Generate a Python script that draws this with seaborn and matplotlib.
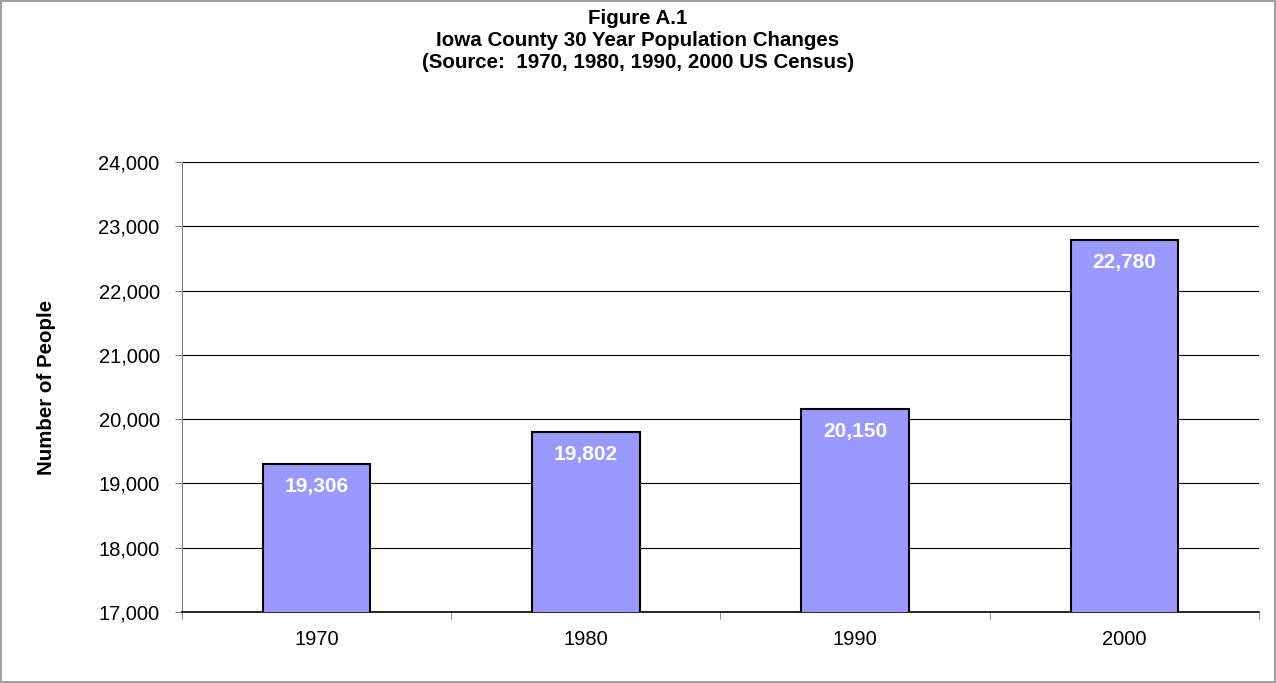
import matplotlib
matplotlib.use("Agg")
import matplotlib.pyplot as plt
from matplotlib.ticker import FuncFormatter, FixedLocator
import seaborn as sns
import pandas as pd

years = ["1970", "1980", "1990", "2000"]
population = [19306, 19802, 20150, 22780]

title_lines = ["Figure A.1",
               "Iowa County 30 Year Population Changes",
               "(Source:  1970, 1980, 1990, 2000 US Census)"]

sns.set_style("white")
plt.rcParams['font.family'] = ['Liberation Sans', 'DejaVu Sans']
plt.rcParams['text.color'] = 'black'
plt.rcParams['axes.labelcolor'] = 'black'
plt.rcParams['xtick.color'] = 'black'
plt.rcParams['ytick.color'] = 'black'

df = pd.DataFrame({"year": years, "people": population})

fig = plt.figure(figsize=(12.76, 6.83), dpi=100)
fig.patch.set_edgecolor("#a0a0a0")
fig.patch.set_linewidth(1.5)
ax = fig.add_axes([0.1426, 0.104, 0.8441, 0.6588])

sns.barplot(data=df, x="year", y="people", color="#9999ff", width=0.4,
            edgecolor="black", linewidth=1.5, saturation=1, ax=ax, zorder=3)

ax.set_ylim(17000, 24000)
ax.set_xlim(-0.5, 3.5)
ax.yaxis.set_major_locator(FixedLocator(range(17000, 24001, 1000)))
ax.yaxis.set_major_formatter(FuncFormatter(lambda v, p: f"{int(v):,}"))
ax.grid(axis="y", color="black", linewidth=0.8, zorder=0)
ax.set_axisbelow(True)

# year labels centred under bars, tick marks between categories
ax.set_xticks(list(range(len(years))))
ax.set_xticklabels(years)
ax.tick_params(axis="x", length=0, labelsize=14.5, pad=13)
ax.set_xticks([-0.5, 0.5, 1.5, 2.5, 3.5], minor=True)
ax.tick_params(axis="x", which="minor", length=5, direction="out", color="#808080")
ax.tick_params(axis="y", length=5, direction="out", labelsize=14.5, color="#808080", pad=11)
ax.yaxis.set_ticks_position("left")
ax.xaxis.set_ticks_position("bottom")

for s in ["top", "right"]:
    ax.spines[s].set_visible(False)
ax.spines["left"].set_color("#808080")
ax.spines["bottom"].set_color("black")
ax.spines["bottom"].set_linewidth(1.2)

ax.set_xlabel("")
ax.set_ylabel("Number of People", fontsize=14.8, fontweight="bold")
ax.yaxis.set_label_coords(-0.117, 0.5)

for i, v in enumerate(population):
    ax.text(i, v - 200, f"{v:,}", ha="center", va="top", color="white",
            fontsize=15, fontweight="bold", zorder=4)

for k, line in enumerate(title_lines):
    fig.text(0.5, 1 - (19 + 22 * k) / 683, line, ha="center", va="center",
             fontsize=14.8, fontweight="bold")

fig.savefig("out.png", dpi=100, edgecolor=fig.get_edgecolor())
